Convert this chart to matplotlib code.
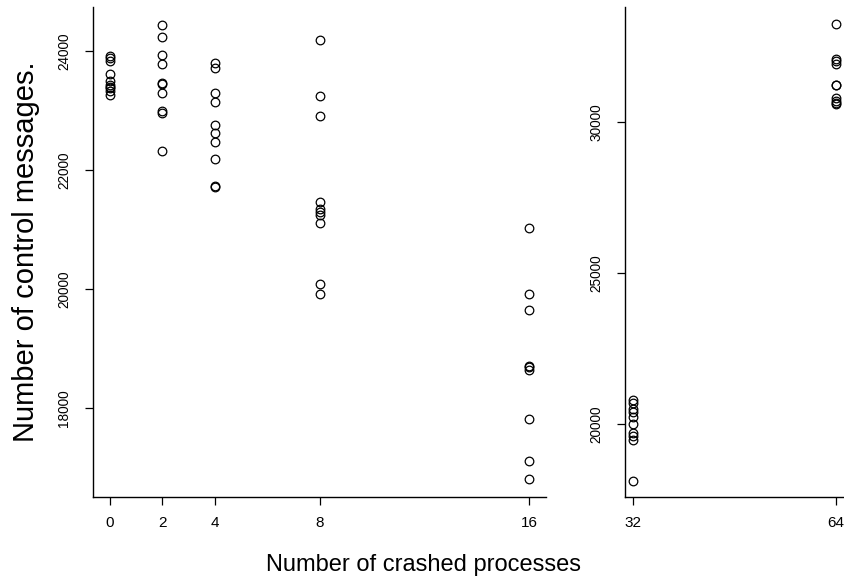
import matplotlib
matplotlib.use("Agg")
import matplotlib.pyplot as plt

plt.rcParams['font.family'] = ['Liberation Sans', 'DejaVu Sans']

# crashed processes -> control messages (low range panel)
crash_0 = [23920, 23880, 23840, 23620, 23490, 23420, 23400, 23370, 23330, 23260]
crash_2 = [24440, 24240, 23930, 23780, 23460, 23440, 23300, 22990, 22960, 22320]
crash_4 = [23790, 23710, 23290, 23150, 22750, 22620, 22470, 22180, 21730, 21710]
crash_8 = [24190, 23250, 22910, 21460, 21350, 21300, 21240, 21110, 20080, 19910]
crash_16 = [21020, 19920, 19640, 18710, 18680, 18630, 17820, 17100, 16810]

# high range panel
crash_32 = [20800, 20680, 20480, 20380, 20230, 20010, 19700, 19600, 19480, 18120]
crash_64 = [33240, 32090, 32030, 31920, 31230, 31210, 30780, 30700, 30620, 30600]

left_groups = {0: crash_0, 2: crash_2, 4: crash_4, 8: crash_8, 16: crash_16}
right_groups = {32: crash_32, 64: crash_64}

left_xticks = [0, 2, 4, 8, 16]
left_yticks = [18000, 20000, 22000, 24000]
right_xticks = [32, 64]
right_yticks = [20000, 25000, 30000]

W, H = 845, 581
fig = plt.figure(figsize=(W / 100, H / 100), dpi=100)


def px_axes(x0, x1, y0, y1):
    return fig.add_axes([x0 / W, 1 - y1 / H, (x1 - x0) / W, (y1 - y0) / H])


def style(ax):
    for s in ['top', 'right']:
        ax.spines[s].set_visible(False)
    for s in ['left', 'bottom']:
        ax.spines[s].set_linewidth(1.0)
    ax.tick_params(direction='out', length=5.5, width=0.9, colors='black')
    ax.tick_params(axis='x', labelsize=11, pad=8)
    ax.tick_params(axis='y', labelsize=9.8, pad=10)
    for lab in ax.get_yticklabels():
        lab.set_rotation(90)
        lab.set_va('center')


def scatter_groups(ax, groups):
    for x, vals in groups.items():
        ax.plot([x] * len(vals), vals, linestyle='none', marker='o',
                markersize=6.2, markerfacecolor='none',
                markeredgecolor='black', markeredgewidth=0.9)


ax1 = px_axes(93, 546, 7, 497)
scatter_groups(ax1, left_groups)
ax1.set_xlim(-0.64, 16.64)
ax1.set_ylim(16500, 24740)
ax1.set_xticks(left_xticks)
ax1.set_yticks(left_yticks)
style(ax1)

ax2 = px_axes(625, 844, 7, 497)
scatter_groups(ax2, right_groups)
ax2.set_xlim(30.72, 65.28)
ax2.set_ylim(17580, 33810)
ax2.set_xticks(right_xticks)
ax2.set_yticks(right_yticks)
style(ax2)

fig.text(424 / W, 1 - 565 / H, "Number of crashed processes",
         ha='center', va='center', fontsize=17)
fig.text(26 / W, 1 - 252 / H, "Number of control messages.",
         ha='center', va='center', rotation=90, fontsize=21)

fig.savefig("out.png", dpi=100)
